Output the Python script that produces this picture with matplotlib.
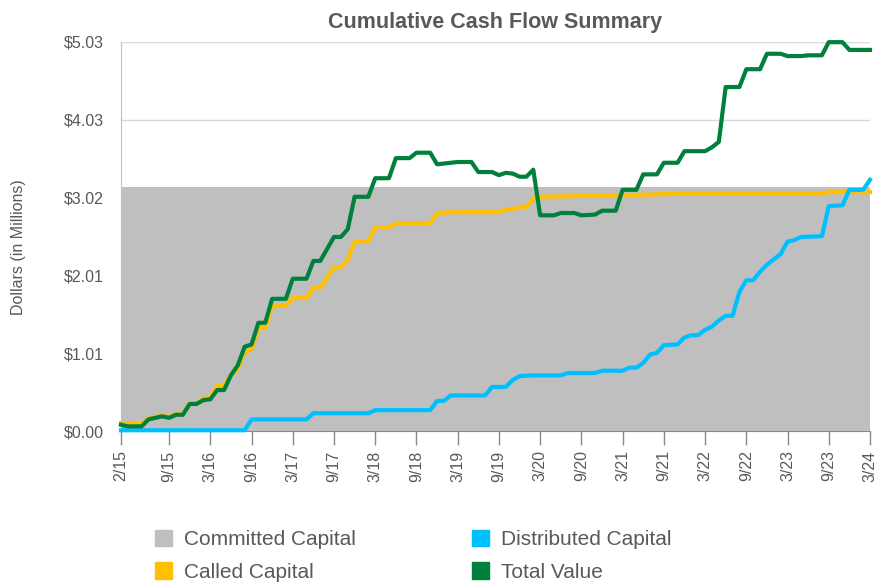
import numpy as np
import matplotlib.pyplot as plt
from matplotlib.patches import Patch

plt.rcParams['font.family'] = ['Liberation Sans', 'DejaVu Sans']

# x values are months counted from Feb 2015, values in $ millions
tick_labels = ["2/15", "9/15", "3/16", "9/16", "3/17", "9/17", "3/18", "9/18", "3/19",
               "9/19", "3/20", "9/20", "3/21", "9/21", "3/22", "9/22", "3/23", "9/23", "3/24"]
y_labels = ["$0.00", "$1.01", "$2.01", "$3.02", "$4.03", "$5.03"]

committed_m = [0, 109]
committed = [3.16, 3.16]

called_m = [0, 3, 4, 6, 7, 8, 9, 10, 11, 12, 13, 14, 15, 16, 17, 18, 19, 20, 21, 22,
            24, 25, 27, 28, 29, 31, 32, 33, 34, 36, 37, 39, 40, 45, 46, 48, 55, 56, 57,
            58, 59, 60, 61, 67, 73, 82, 102, 103, 109]
called = [0.10, 0.10, 0.16, 0.20, 0.18, 0.22, 0.22, 0.36, 0.36, 0.42, 0.44, 0.58, 0.59,
          0.72, 0.80, 1.03, 1.05, 1.33, 1.33, 1.62, 1.62, 1.72, 1.72, 1.85, 1.85, 2.12,
          2.12, 2.21, 2.45, 2.45, 2.63, 2.63, 2.69, 2.69, 2.82, 2.83, 2.83, 2.87, 2.87,
          2.90, 2.90, 3.01, 3.03, 3.04, 3.05, 3.07, 3.07, 3.09, 3.09]

dist_m = [0, 18, 19, 27, 28, 36, 37, 45, 46, 47, 48, 53, 54, 56, 57, 58, 60, 64, 65,
          69, 70, 73, 74, 75, 76, 77, 78, 79, 81, 82, 83, 84, 85, 86, 87, 88, 89, 90,
          91, 92, 93, 94, 95, 96, 97, 98, 99, 102, 103, 105, 106, 108, 109]
distributed = [0.01, 0.01, 0.15, 0.15, 0.23, 0.23, 0.27, 0.27, 0.39, 0.39, 0.46, 0.46,
               0.57, 0.57, 0.66, 0.71, 0.72, 0.72, 0.75, 0.75, 0.78, 0.78, 0.82, 0.82,
               0.88, 0.99, 1.01, 1.11, 1.12, 1.21, 1.24, 1.24, 1.31, 1.35, 1.43, 1.49,
               1.49, 1.80, 1.95, 1.95, 2.06, 2.15, 2.22, 2.29, 2.45, 2.47, 2.51, 2.52,
               2.91, 2.92, 3.12, 3.12, 3.25]

total_m = [0, 1, 3, 4, 6, 7, 8, 9, 10, 11, 12, 13, 14, 15, 16, 17, 18, 19, 20, 21, 22,
           24, 25, 27, 28, 29, 31, 32, 33, 34, 36, 37, 39, 40, 42, 43, 45, 46, 47, 49,
           51, 52, 54, 55, 56, 57, 58, 59, 60, 61, 63, 64, 66, 67, 69, 70, 72, 73, 75,
           76, 78, 79, 81, 82, 85, 86, 87, 88, 90, 91, 93, 94, 96, 97, 99, 100, 102,
           103, 105, 106, 109]
total = [0.08, 0.06, 0.06, 0.15, 0.19, 0.17, 0.21, 0.21, 0.35, 0.35, 0.40, 0.41, 0.53,
         0.53, 0.72, 0.85, 1.09, 1.12, 1.40, 1.40, 1.71, 1.71, 1.97, 1.97, 2.20, 2.20,
         2.51, 2.51, 2.61, 3.03, 3.03, 3.27, 3.27, 3.53, 3.53, 3.60, 3.60, 3.45, 3.46,
         3.48, 3.48, 3.35, 3.35, 3.31, 3.34, 3.33, 3.29, 3.29, 3.38, 2.79, 2.79, 2.82,
         2.82, 2.79, 2.80, 2.85, 2.85, 3.12, 3.12, 3.32, 3.32, 3.47, 3.47, 3.62, 3.62,
         3.67, 3.74, 4.45, 4.45, 4.68, 4.68, 4.88, 4.88, 4.85, 4.85, 4.86, 4.86, 5.03,
         5.03, 4.93, 4.93]

# tick months from the "m/yy" labels
tick_pos = [(2000 + int(t.split("/")[1]) - 2015) * 12 + int(t.split("/")[0]) - 2
            for t in tick_labels]
y_top = 5.0325

c_grey = "#bfbfbf"
c_yellow = "#ffc000"
c_blue = "#00bfff"
c_green = "#00803c"
c_text = "#595959"

fig = plt.figure(figsize=(8.81, 5.83), dpi=100)
ax = fig.add_axes([0.1373, 0.2607, 0.8502, 0.6673])

ax.fill_between(committed_m, committed, 0, color=c_grey, lw=0, zorder=1)
ax.plot(called_m, called, color=c_yellow, lw=3, zorder=3, clip_on=False)
ax.plot(dist_m, distributed, color=c_blue, lw=3, zorder=4, clip_on=False)
ax.plot(total_m, total, color=c_green, lw=3, zorder=5, clip_on=False)

ax.set_xlim(0, 109)
ax.set_ylim(0, y_top)
ax.set_yticks(np.linspace(0, y_top, 6))
ax.set_yticklabels(y_labels)
ax.set_xticks(tick_pos)
ax.set_xticklabels(tick_labels, rotation=90)
ax.grid(axis="y", color="#d9d9d9", lw=1, zorder=0)
ax.set_axisbelow(True)

for s in ["top", "right"]:
    ax.spines[s].set_visible(False)
ax.spines["left"].set_color("#bfbfbf")
ax.spines["bottom"].set_color("#898989")
ax.tick_params(axis="y", length=0, pad=12.5, labelsize=11.5, labelcolor=c_text)
ax.tick_params(axis="x", length=10, width=1, color="#898989", direction="out",
               pad=4, labelsize=11.5, labelcolor=c_text)

fig.text(19 / 881, 1 - 247 / 583, "Dollars (in Millions)", rotation=90, fontsize=11.5,
         color=c_text, ha="center", va="center")
fig.suptitle("Cumulative Cash Flow Summary", x=0.5624, y=0.98, fontsize=15.5,
             fontweight="bold", color=c_text)

handles = [Patch(color=c_grey), Patch(color=c_yellow), Patch(color=c_blue), Patch(color=c_green)]
labels = ["Committed Capital", "Called Capital", "Distributed Capital", "Total Value"]
fig.legend(handles, labels, ncol=2, loc="upper left", bbox_to_anchor=(0.176, 0.0914),
           frameon=False, fontsize=15, labelcolor=c_text, handlelength=0.82,
           handleheight=0.85, handletextpad=0.55, columnspacing=5.6, labelspacing=0.62,
           borderpad=0, borderaxespad=0)

fig.savefig("out.png", dpi=100)
